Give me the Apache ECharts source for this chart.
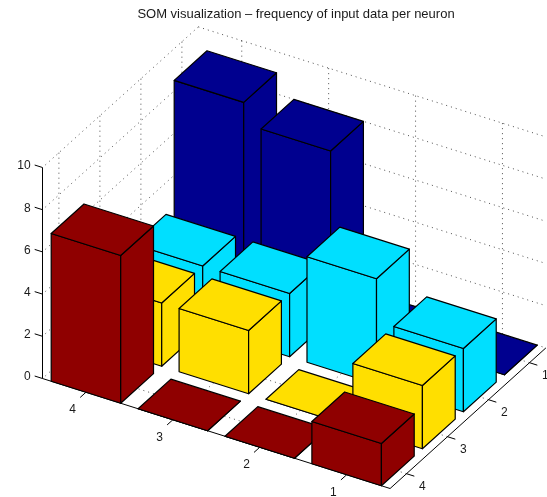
<!DOCTYPE html>
<html>
<head>
<meta charset="utf-8">
<title>SOM visualization</title>
<script src="https://cdn.jsdelivr.net/npm/echarts@6/dist/echarts.min.js"></script>
<style>
  html,body{margin:0;padding:0;background:#fff;}
  #chart{width:547px;height:497px;}
</style>
</head>
<body>
<div id="chart"></div>
<script>
var titleText = 'SOM visualization \u2013 frequency of input data per neuron';
// neuron column (front-left axis) and row (front-right axis)
var colTicks = [4, 3, 2, 1];
var rowTicks = [1, 2, 3, 4];
var zTicks = [0, 2, 4, 6, 8, 10];
// frequency per row, same order as colTicks
var row1 = [9, 8, 0, 0];
var row2 = [3, 3, 5, 3];
var row3 = [3, 3, 0, 3];
var row4 = [7, 0, 0, 2];
var rowValues = [row1, row2, row3, row4];
var rowColors = ['#00008f', '#00dfff', '#ffdf00', '#8f0000'];

// axis limits of the 3d box
var colMin = 0.5, colMax = 4.5, rowMin = 0.6, rowMax = 4.4, zMin = 0, zMax = 10;
var barHalf = 0.4;

// parallel projection, one unit of each axis in the flat grid below
var view = {x0: 42.5, y0: 378.5, cx: 86.9, cy: 27.5, rx: -41, ry: 37, zy: -21.1};
function project(c, r, z) {
  var dc = colMax - c, dr = r - rowMax;
  return [view.x0 + dc * view.cx + dr * view.rx, view.y0 + dc * view.cy + dr * view.ry + z * view.zy];
}

var chart = echarts.init(document.getElementById('chart'), null, {renderer: 'canvas'});

function lineEl(api, a, b, style) {
  var p1 = api.coord(a), p2 = api.coord(b);
  return {type: 'line', shape: {x1: p1[0], y1: p1[1], x2: p2[0], y2: p2[1]}, style: style, silent: true};
}

function textEl(api, at, text, dx, dy, align) {
  var p = api.coord(at);
  return {
    type: 'text',
    x: p[0] + dx,
    y: p[1] + dy,
    silent: true,
    style: {text: String(text), fill: '#1a1a1a', font: '12px "Liberation Sans", Arial, sans-serif', align: align, verticalAlign: 'middle'}
  };
}

// dotted grid on the two back walls and floor
function renderGrid(params, api) {
  var dots = {stroke: '#222', lineWidth: 0.8, lineDash: [1, 4], fill: null};
  var kids = [];
  colTicks.forEach(function (c) {
    kids.push(lineEl(api, project(c, rowMin, zMin), project(c, rowMin, zMax), dots));
    kids.push(lineEl(api, project(c, rowMin, zMin), project(c, rowMax, zMin), dots));
  });
  rowTicks.forEach(function (r) {
    kids.push(lineEl(api, project(colMax, r, zMin), project(colMax, r, zMax), dots));
    kids.push(lineEl(api, project(colMin, r, zMin), project(colMax, r, zMin), dots));
  });
  zTicks.forEach(function (z) {
    kids.push(lineEl(api, project(colMax, rowMin, z), project(colMin, rowMin, z), dots));
    kids.push(lineEl(api, project(colMax, rowMin, z), project(colMax, rowMax, z), dots));
  });
  return {type: 'group', children: kids};
}

// axis lines, ticks and tick labels
function renderAxes(params, api) {
  var ink = {stroke: '#000', lineWidth: 1, fill: null};
  var kids = [];
  kids.push(lineEl(api, project(colMax, rowMax, zMin), project(colMax, rowMax, zMax), ink));
  kids.push(lineEl(api, project(colMax, rowMax, zMin), project(colMin, rowMax, zMin), ink));
  kids.push(lineEl(api, project(colMin, rowMax, zMin), project(colMin, rowMin, zMin), ink));
  zTicks.forEach(function (z) {
    kids.push(lineEl(api, project(colMax, rowMax, z), project(colMax + 0.09, rowMax, z), ink));
    kids.push(textEl(api, project(colMax + 0.09, rowMax, z), z, -4, 1, 'right'));
  });
  colTicks.forEach(function (c) {
    kids.push(lineEl(api, project(c, rowMax, zMin), project(c, rowMax + 0.14, zMin), ink));
    kids.push(textEl(api, project(c, rowMax + 0.14, zMin), c, -7.5, 12.5, 'center'));
  });
  rowTicks.forEach(function (r) {
    kids.push(lineEl(api, project(colMin, r, zMin), project(colMin - 0.09, r, zMin), ink));
    kids.push(textEl(api, project(colMin - 0.09, r, zMin), r, 8, 11, 'center'));
  });
  return {type: 'group', children: kids};
}

function face(api, corners, color) {
  var pts = corners.map(function (p) { return api.coord(project(p[0], p[1], p[2])); });
  return {
    type: 'polygon',
    shape: {points: pts},
    silent: true,
    style: {fill: color, stroke: '#000', lineWidth: 1.2, lineJoin: 'round'}
  };
}

// one box: front-left face, front-right face, top
function renderBar(params, api) {
  var c = api.value(0), r = api.value(1), v = api.value(2);
  var color = rowColors[r - 1];
  var c0 = c - barHalf, c1 = c + barHalf, r0 = r - barHalf, r1 = r + barHalf;
  return {
    type: 'group',
    children: [
      face(api, [[c1, r1, 0], [c0, r1, 0], [c0, r1, v], [c1, r1, v]], color),
      face(api, [[c0, r1, 0], [c0, r0, 0], [c0, r0, v], [c0, r1, v]], color),
      face(api, [[c1, r1, v], [c0, r1, v], [c0, r0, v], [c1, r0, v]], color)
    ]
  };
}

var series = [
  {type: 'custom', name: 'grid', coordinateSystem: 'cartesian2d', z: 1, silent: true, data: [[0, 0]], renderItem: renderGrid, clip: false},
  {type: 'custom', name: 'axes', coordinateSystem: 'cartesian2d', z: 2, silent: true, data: [[0, 0]], renderItem: renderAxes, clip: false}
];
// back rows first, painter's order
rowValues.forEach(function (vals, i) {
  var items = colTicks.map(function (c, j) { return [c, rowTicks[i], vals[j]]; });
  series.push({
    type: 'custom',
    name: 'row ' + rowTicks[i],
    coordinateSystem: 'cartesian2d',
    z: 3 + i,
    silent: true,
    clip: false,
    encode: {x: 0, y: 1},
    data: items,
    renderItem: renderBar
  });
});

var option = {
  backgroundColor: '#fff',
  animation: false,
  tooltip: {show: false},
  title: {
    text: titleText,
    left: 291,
    top: 3,
    textAlign: 'center',
    textStyle: {color: '#1a1a1a', fontSize: 13, fontWeight: 'normal', fontFamily: '"Liberation Sans", Arial, sans-serif'}
  },
  // flat page-sized grid the projected points are placed on
  grid: {left: 0, top: 0, width: 547, height: 497},
  xAxis: {type: 'value', min: 0, max: 547, show: false},
  yAxis: {type: 'value', min: 0, max: 497, inverse: true, show: false},
  series: series
};
chart.setOption(option);
</script>
</body>
</html>
